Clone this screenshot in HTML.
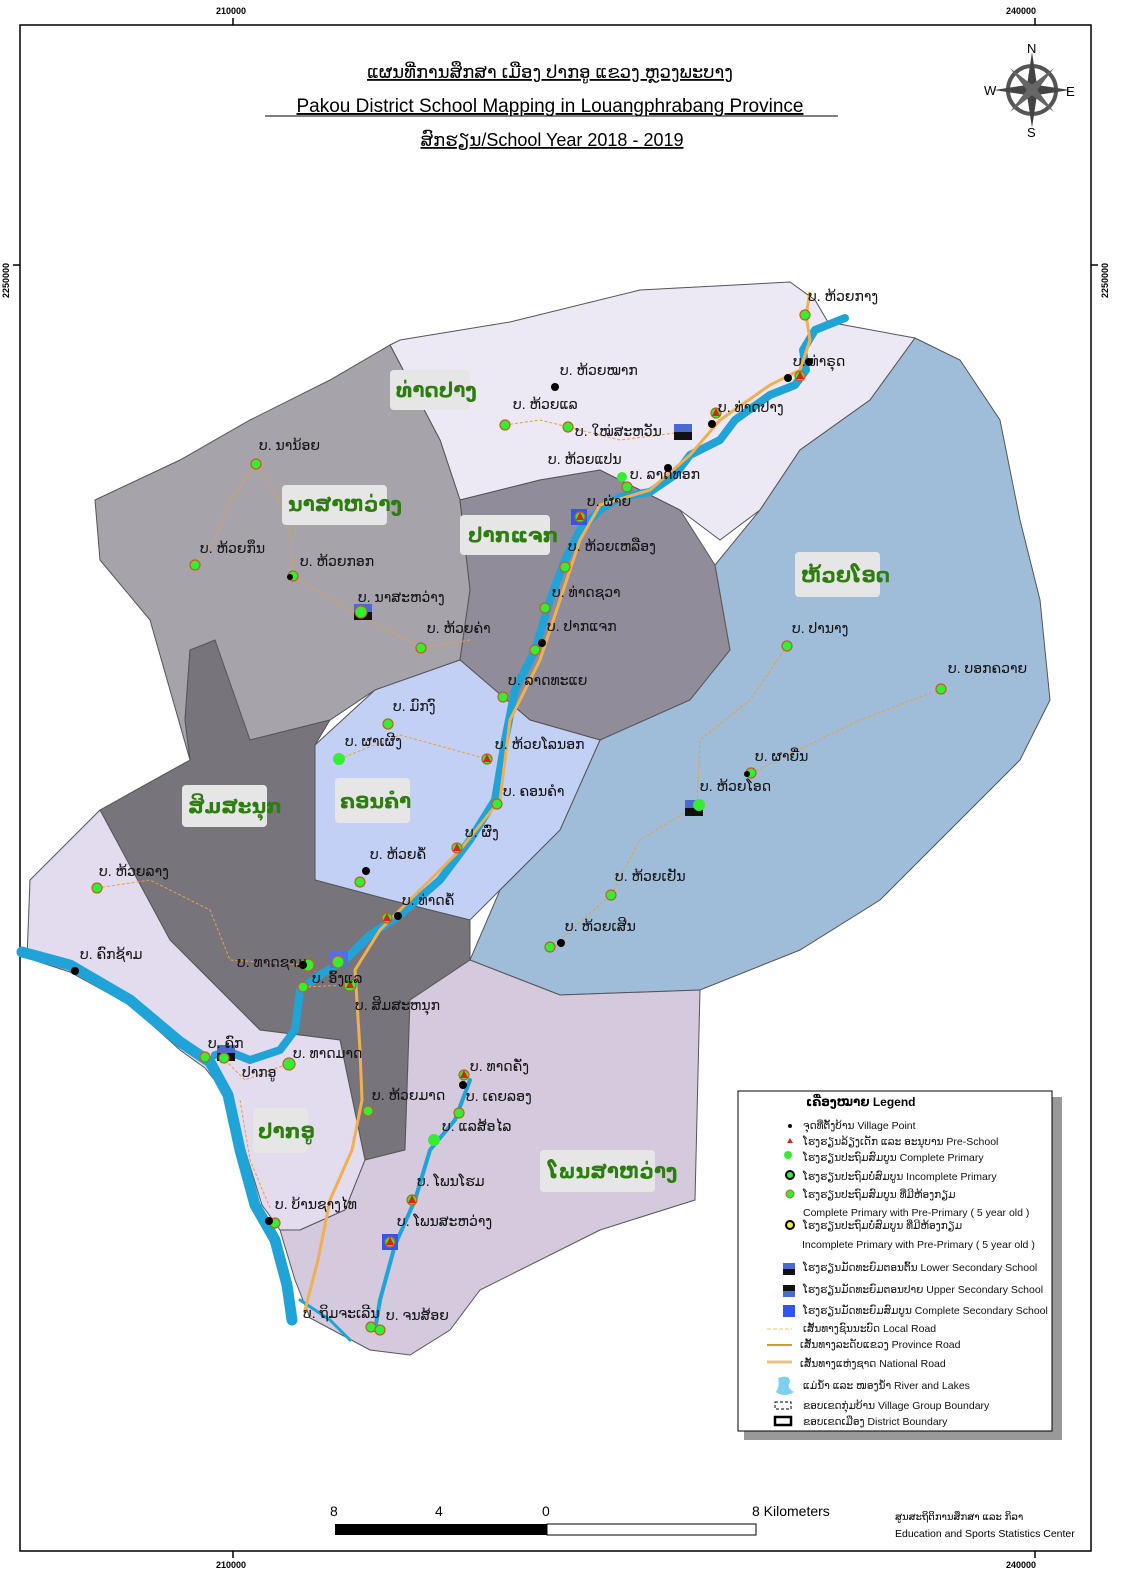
<!DOCTYPE html>
<html><head><meta charset="utf-8"><style>
html,body{margin:0;padding:0;background:#fff}
svg{display:block}
text{font-family:"Liberation Sans","DejaVu Sans",sans-serif}
.lb{font-size:14px;fill:#111}
.rl{font-size:20px;fill:#2e7d10;font-weight:bold}
.lg{font-size:10.5px;fill:#111}
</style></head><body>
<svg width="1123" height="1587" viewBox="0 0 1123 1587" xmlns="http://www.w3.org/2000/svg">
<rect x="20" y="25" width="1071" height="1526" fill="#fff" stroke="#000" stroke-width="1.5"/>
<g stroke="#000" stroke-width="1.5">
<line x1="233" y1="18" x2="233" y2="25"/><line x1="1035" y1="18" x2="1035" y2="25"/>
<line x1="233" y1="1551" x2="233" y2="1558"/><line x1="1035" y1="1551" x2="1035" y2="1558"/>
<line x1="13" y1="265" x2="20" y2="265"/><line x1="1091" y1="265" x2="1098" y2="265"/>
</g>
<g font-size="9" font-weight="bold">
<text x="216" y="14">210000</text><text x="1006" y="14">240000</text>
<text x="216" y="1568">210000</text><text x="1006" y="1568">240000</text>
<text transform="translate(9,298) rotate(-90)">2250000</text>
<text transform="translate(1108,298) rotate(-90)">2250000</text>
</g>
<g text-anchor="middle" fill="#000" text-decoration="underline">
<text x="550" y="78" font-size="18">ແຜນທີ່ການສຶກສາ ເມືອງ ປາກອູ ແຂວງ ຫຼວງພະບາງ</text>
<text x="550" y="112" font-size="19">Pakou District School Mapping in Louangphrabang Province</text>
<text x="552" y="146" font-size="18">ສົກຮຽນ/School  Year 2018 - 2019</text>
</g>
<line x1="265" y1="116" x2="838" y2="116" stroke="#000"/>
<g transform="translate(1032,90)">
<circle r="24" fill="none" stroke="#555" stroke-width="4"/>
<polygon points="0,-38 5,-5 0,0 -5,-5" fill="#444"/><polygon points="0,38 5,5 0,0 -5,5" fill="#444"/>
<polygon points="-38,0 -5,5 0,0 -5,-5" fill="#444"/><polygon points="38,0 5,5 0,0 5,-5" fill="#444"/>
<polygon points="-22,-22 3,-3 -3,3" fill="#666"/><polygon points="22,22 3,-3 -3,3" fill="#666"/>
<polygon points="22,-22 3,3 -3,-3" fill="#666"/><polygon points="-22,22 3,3 -3,-3" fill="#666"/>
<text x="-5" y="-37" font-size="13" font-family="Liberation Serif">N</text>
<text x="-5" y="47" font-size="13" font-family="Liberation Serif">S</text>
<text x="-48" y="5" font-size="13" font-family="Liberation Serif">W</text>
<text x="34" y="6" font-size="13" font-family="Liberation Serif">E</text>
</g>
<g stroke="#555" stroke-width="1">
<polygon fill="#ece8f4" points="390,345 400,340 510,322 640,290 790,282 815,300 828,322 915,338 870,400 800,450 760,510 720,540 680,510 640,490 600,470 540,480 460,500 440,440"/>
<polygon fill="#a6a3ab" points="95,500 180,460 250,420 330,380 390,345 440,440 460,500 470,590 460,660 375,690 330,720 250,740 215,660 190,650 185,720 190,760 150,620 100,560"/>
<polygon fill="#908c99" points="460,500 540,480 600,470 640,490 680,510 715,565 730,650 690,700 600,740 530,720 460,660 470,590"/>
<polygon fill="#9fbcd8" points="915,338 960,360 1000,420 1020,520 1040,600 1050,700 1020,760 950,830 880,900 800,950 700,990 560,995 470,960 500,890 560,830 600,740 690,700 730,650 715,565 760,510 800,450 870,400"/>
<polygon fill="#c3d0f5" points="315,745 375,690 460,660 530,720 600,740 560,830 500,890 470,920 390,900 315,880"/>
<polygon fill="#77747c" points="100,810 190,760 185,720 190,650 215,640 250,740 330,720 315,745 315,880 390,900 470,920 470,960 410,1000 405,1150 365,1160 340,1040 260,1030 220,990 170,940"/>
<polygon fill="#e3dbee" points="30,880 100,810 170,940 220,990 260,1030 340,1040 365,1160 345,1210 300,1230 280,1230 262,1205 245,1150 230,1100 205,1068 180,1050 130,1005 70,972 27,958"/>
<polygon fill="#d4c9dd" points="405,1150 410,1000 470,960 560,995 700,990 695,1200 600,1230 480,1290 450,1330 410,1355 370,1350 310,1318 295,1280 280,1230 300,1230 345,1210 365,1160"/>
</g>
<g fill="none" stroke="#20a4d8" stroke-linecap="round" stroke-linejoin="round">
<path stroke-width="8" d="M845,318 L815,330 803,350 806,370 795,385 770,395 735,420 720,440 690,455 675,475 650,492 620,497 600,510 580,530 565,560 550,600 535,650 515,690 505,740 495,800 470,840 440,880 400,915 370,935 345,960 320,975 300,990 295,1030 280,1050 250,1060 230,1052 215,1055"/>
<path stroke-width="11" d="M22,952 L70,965 130,1000 180,1042 210,1062 228,1095 240,1150 255,1205 275,1240 287,1285 292,1320"/>
<path stroke-width="4" d="M470,1080 L455,1120 430,1150 415,1200 395,1245 380,1300 375,1330"/>
<path stroke-width="3" d="M300,1300 L330,1320 350,1340"/>
</g>
<g fill="none" stroke="#f0b050" stroke-width="3">
<path d="M810,292 L806,315 810,340 800,370 770,385 720,420 690,455 650,490 600,505 580,540 560,600 540,660 510,720 500,800 460,850 420,890 380,930 355,970 360,1050 362,1100 352,1150 330,1200 318,1260 305,1310"/>
</g>
<g fill="none" stroke="#e8a040" stroke-width="1" stroke-dasharray="3,2">
<path d="M256,464 L230,500 215,540 195,565"/><path d="M256,464 L290,520 293,576 350,610 421,648 470,640"/>
<path d="M505,425 L540,420 568,427 620,440 683,432"/><path d="M339,759 L400,735 487,759"/>
<path d="M787,646 L750,700 700,740 697,805 640,840 611,895 560,940"/><path d="M941,689 L860,720 751,773"/>
<path d="M97,888 L150,880 210,910 230,960 305,965"/><path d="M303,987 L350,985"/><path d="M225,1060 L245,1080 285,1065"/><path d="M240,1100 L250,1160 270,1208"/>
</g>
<g fill="#e6e6e6">
<rect x="390" y="370" width="80" height="40" rx="4"/><rect x="282" y="485" width="105" height="40" rx="4"/>
<rect x="460" y="515" width="90" height="40" rx="4"/><rect x="795" y="552" width="85" height="45" rx="4"/>
<rect x="182" y="785" width="85" height="42" rx="4"/><rect x="335" y="778" width="75" height="45" rx="4"/>
<rect x="253" y="1108" width="55" height="45" rx="4"/><rect x="540" y="1150" width="115" height="42" rx="4"/>
</g>
<g class="rl">
<text x="396" y="397">ທ່າດປາງ</text><text x="288" y="511">ນາສາຫວ່າງ</text><text x="468" y="542">ປາກແຈກ</text>
<text x="801" y="582">ຫ້ວຍໂອດ</text><text x="188" y="813">ສິມສະນຸກ</text><text x="340" y="808">ຄອນຄຳ</text>
<text x="258" y="1138">ປາກອູ</text><text x="548" y="1178">ໂພນສາຫວ່າງ</text>
</g>
<g>
<rect x="674" y="424" width="18" height="16" fill="#4a6ad0"/><rect x="674" y="432" width="18" height="8" fill="#111"/>
<rect x="571" y="509" width="16" height="16" fill="#3355ee"/>
<rect x="354" y="604" width="18" height="16" fill="#4a6ad0"/><rect x="354" y="612" width="18" height="8" fill="#111"/>
<rect x="685" y="800" width="18" height="16" fill="#4a6ad0"/><rect x="685" y="808" width="18" height="8" fill="#111"/>
<rect x="330" y="952" width="18" height="16" fill="#5070ee"/>
<rect x="217" y="1045" width="18" height="16" fill="#4a6ad0"/><rect x="217" y="1053" width="18" height="8" fill="#111"/>
<rect x="382" y="1234" width="16" height="16" fill="#3355ee"/>
</g>
<g stroke="#c06020" stroke-width="1.2" fill="#33ee33">
<circle cx="805" cy="315" r="5"/><circle cx="800" cy="376" r="5"/><circle cx="716" cy="413" r="5"/><circle cx="505" cy="425" r="5"/>
<circle cx="568" cy="427" r="5"/><circle cx="622" cy="477" r="5" stroke="none"/><circle cx="627" cy="487" r="5"/>
<circle cx="580" cy="517" r="5"/><circle cx="565" cy="567" r="5"/><circle cx="545" cy="608" r="5"/><circle cx="535" cy="650" r="5"/>
<circle cx="503" cy="697" r="5"/><circle cx="487" cy="759" r="5"/><circle cx="497" cy="804" r="5"/><circle cx="457" cy="848" r="5"/>
<circle cx="360" cy="882" r="5"/><circle cx="387" cy="918" r="5"/><circle cx="388" cy="724" r="5"/><circle cx="339" cy="759" r="6" stroke="none"/>
<circle cx="256" cy="464" r="5"/><circle cx="195" cy="565" r="5"/><circle cx="293" cy="576" r="5"/><circle cx="361" cy="612" r="6"/>
<circle cx="421" cy="648" r="5"/><circle cx="787" cy="646" r="5"/><circle cx="941" cy="689" r="5"/><circle cx="751" cy="773" r="5"/>
<circle cx="699" cy="805" r="6" stroke="none"/><circle cx="611" cy="895" r="5"/><circle cx="550" cy="947" r="5"/><circle cx="97" cy="888" r="5"/>
<circle cx="308" cy="965" r="6"/><circle cx="350" cy="985" r="6"/><circle cx="303" cy="987" r="5"/><circle cx="205" cy="1057" r="5"/>
<circle cx="224" cy="1058" r="5"/><circle cx="289" cy="1064" r="6"/><circle cx="368" cy="1111" r="5"/><circle cx="464" cy="1075" r="5"/>
<circle cx="459" cy="1113" r="5"/><circle cx="434" cy="1140" r="6" stroke="none"/><circle cx="412" cy="1200" r="5"/><circle cx="390" cy="1242" r="5"/>
<circle cx="275" cy="1223" r="5"/><circle cx="371" cy="1327" r="5"/><circle cx="380" cy="1330" r="5"/><circle cx="338" cy="962" r="6"/>
</g>
<g fill="#000">
<circle cx="555" cy="387" r="4"/><circle cx="809" cy="362" r="4"/><circle cx="788" cy="378" r="4"/><circle cx="668" cy="468" r="4"/>
<circle cx="712" cy="424" r="4"/><circle cx="542" cy="643" r="4"/><circle cx="366" cy="871" r="4"/><circle cx="398" cy="916" r="4"/>
<circle cx="75" cy="971" r="4"/><circle cx="561" cy="943" r="4"/><circle cx="463" cy="1085" r="4"/><circle cx="303" cy="965" r="4"/>
<circle cx="290" cy="577" r="3"/><circle cx="747" cy="774" r="3"/><circle cx="269" cy="1221" r="4"/>
</g>
<g fill="#e02020">
<polygon points="800,371 796,379 804,379"/><polygon points="716,408 712,416 720,416"/><polygon points="487,754 483,762 491,762"/>
<polygon points="457,843 453,851 461,851"/><polygon points="387,913 383,921 391,921"/><polygon points="350,980 346,988 354,988"/>
<polygon points="464,1070 460,1078 468,1078"/><polygon points="412,1195 408,1203 416,1203"/><polygon points="390,1237 386,1245 394,1245"/>
<polygon points="580,512 576,520 584,520"/>
</g>
<g class="lb">
<text x="808" y="301">ບ. ຫ້ວຍກາງ</text><text x="793" y="366">ບ. ທ່າຣຸດ</text><text x="718" y="412">ບ. ທ່າດປາງ</text>
<text x="560" y="375">ບ. ຫ້ວຍໝາກ</text><text x="513" y="409">ບ. ຫ້ວຍແລ</text><text x="575" y="436">ບ. ໃໝ່ສະຫວັນ</text>
<text x="548" y="464">ບ. ຫ້ວຍແປນ</text><text x="630" y="479">ບ. ລາດທອກ</text><text x="587" y="506">ບ. ຜ່າຍ</text>
<text x="568" y="551">ບ. ຫ້ວຍເຫລືອງ</text><text x="552" y="597">ບ. ທ່າດຊວາ</text><text x="547" y="631">ບ. ປາກແຈກ</text>
<text x="508" y="685">ບ. ລາດທະແຍ</text><text x="495" y="749">ບ. ຫ້ວຍໂລນອກ</text><text x="503" y="796">ບ. ຄອນຄຳ</text>
<text x="465" y="837">ບ. ຜົ່ງ</text><text x="370" y="859">ບ. ຫ້ວຍຄໍ້</text><text x="402" y="905">ບ. ທ່າດຄໍ້</text>
<text x="393" y="711">ບ. ມົກງົ</text><text x="345" y="746">ບ. ຜາເຜີງ</text><text x="259" y="450">ບ. ນານ້ອຍ</text>
<text x="200" y="553">ບ. ຫ້ວຍກຶນ</text><text x="300" y="566">ບ. ຫ້ວຍກອກ</text><text x="358" y="602">ບ. ນາສະຫວ່າງ</text>
<text x="427" y="633">ບ. ຫ້ວຍຄ່າ</text><text x="792" y="633">ບ. ປານາງ</text><text x="948" y="673">ບ. ບອກຄວາຍ</text>
<text x="755" y="761">ບ. ຜາຍື່ນ</text><text x="700" y="791">ບ. ຫ້ວຍໂອດ</text><text x="615" y="881">ບ. ຫ້ວຍເຢັນ</text>
<text x="565" y="931">ບ. ຫ້ວຍເສີນ</text><text x="99" y="876">ບ. ຫ້ວຍລາງ</text><text x="80" y="959">ບ. ຄົກຊ້າມ</text>
<text x="237" y="967">ບ. ທາດຊາມ</text><text x="312" y="983">ບ. ອົ້ງແລ</text><text x="355" y="1010">ບ. ສິມສະຫນຸກ</text>
<text x="208" y="1048">ບ. ຄົກ</text><text x="242" y="1077">ປາກອູ</text><text x="293" y="1058">ບ. ທາດມາດ</text>
<text x="372" y="1100">ບ. ຫ້ວຍມາດ</text><text x="470" y="1071">ບ. ທາດຄັ່ງ</text><text x="466" y="1101">ບ. ເຄຍລອງ</text>
<text x="442" y="1131">ບ. ແລສ້ອໄລ</text><text x="417" y="1186">ບ. ໂພນໂຮມ</text><text x="397" y="1226">ບ. ໂພນສະຫວ່າງ</text>
<text x="275" y="1209">ບ. ບ້ານຊາງໄທ</text><text x="303" y="1318">ບ. ຖິມຈະເລີນ</text><text x="386" y="1320">ບ. ຈນສ້ອຍ</text>
</g>
<rect x="744" y="1097" width="318" height="343" fill="#999"/>
<rect x="738" y="1091" width="314" height="340" fill="#fff" stroke="#000"/>
<text x="806" y="1106" font-size="12" font-weight="bold">ເຄື່ອງໝາຍ Legend</text>
<g class="lg">
<circle cx="790" cy="1126" r="2"/><text x="803" y="1129">ຈຸດທີ່ຕັ້ງບ້ານ Village Point</text>
<polygon points="790,1138 787,1143 793,1143" fill="#e02020"/><text x="803" y="1145">ໂຮງຮຽນລ້ຽງເດັກ ແລະ ອະນຸບານ Pre-School</text>
<circle cx="788" cy="1155" r="4" fill="#33ee33"/><text x="803" y="1161">ໂຮງຮຽນປະຖົມສົມບູນ Complete Primary</text>
<circle cx="790" cy="1175" r="4" fill="#33ee33" stroke="#000" stroke-width="2"/><text x="803" y="1180">ໂຮງຮຽນປະຖົມບໍ່ສົມບູນ Incomplete  Primary</text>
<circle cx="790" cy="1194" r="4" fill="#33ee33" stroke="#c06020"/><text x="803" y="1198">ໂຮງຮຽນປະຖົມສົມບູນ ທີ່ມີຫ້ອງກຽມ</text>
<text x="803" y="1216">Complete Primary  with Pre-Primary ( 5 year old )</text>
<circle cx="790" cy="1225" r="4" fill="#eeee33" stroke="#000" stroke-width="2"/><text x="803" y="1229">ໂຮງຮຽນປະຖົມບໍ່ສົມບູນ ທີ່ມີຫ້ອງກຽມ</text>
<text x="802" y="1248">Incomplete  Primary with Pre-Primary ( 5 year old )</text>
<rect x="783" y="1263" width="12" height="6" fill="#4a6ad0"/><rect x="783" y="1269" width="12" height="6" fill="#111"/><text x="803" y="1271">ໂຮງຮຽນມັດທະຍົມຕອນຕົ້ນ Lower Secondary School</text>
<rect x="783" y="1285" width="12" height="6" fill="#111"/><rect x="783" y="1291" width="12" height="6" fill="#4a6ad0"/><text x="803" y="1293">ໂຮງຮຽນມັດທະຍົມຕອນປາຍ Upper Secondary School</text>
<rect x="783" y="1305" width="12" height="12" fill="#3355ee"/><text x="803" y="1314">ໂຮງຮຽນມັດທະຍົມສົມບູນ Complete Secondary School</text>
<line x1="767" y1="1329" x2="792" y2="1329" stroke="#f0c080" stroke-dasharray="4,2"/><text x="803" y="1332">ເສັ້ນທາງຊົນນະບົດ Local Road</text>
<line x1="767" y1="1345" x2="792" y2="1345" stroke="#c8a030" stroke-width="2"/><text x="800" y="1348">ເສັ້ນທາງລະດັບແຂວງ Province Road</text>
<line x1="767" y1="1362" x2="792" y2="1362" stroke="#f0c080" stroke-width="3"/><text x="800" y="1367">ເສັ້ນທາງແຫ່ງຊາດ  National Road</text>
<path d="M778,1378 q12,-4 12,4 q-4,6 4,10 q-10,6 -18,0 q4,-6 2,-14z" fill="#7fd0ef"/><text x="803" y="1389">ແມ່ນ້ຳ ແລະ ໜອງນ້ຳ River and Lakes</text>
<rect x="775" y="1402" width="16" height="7" fill="none" stroke="#000" stroke-dasharray="3,2"/><text x="803" y="1409">ຂອບເຂດກຸ່ມບ້ານ Village Group Boundary</text>
<rect x="775" y="1417" width="16" height="8" fill="none" stroke="#000" stroke-width="2.5"/><text x="803" y="1425">ຂອບເຂດເມືອງ District Boundary</text>
</g>
<rect x="335" y="1524" width="212" height="11" fill="#000"/>
<rect x="547" y="1524" width="209" height="11" fill="#fff" stroke="#000"/>
<g font-size="14"><text x="330" y="1516">8</text><text x="435" y="1516">4</text><text x="542" y="1516">0</text><text x="752" y="1516">8 Kilometers</text></g>
<text x="895" y="1520" font-size="10">ສູນສະຖິຕິການສຶກສາ ແລະ ກິລາ</text>
<text x="895" y="1537" font-size="10.5">Education and Sports Statistics Center</text>
</svg>
</body></html>
